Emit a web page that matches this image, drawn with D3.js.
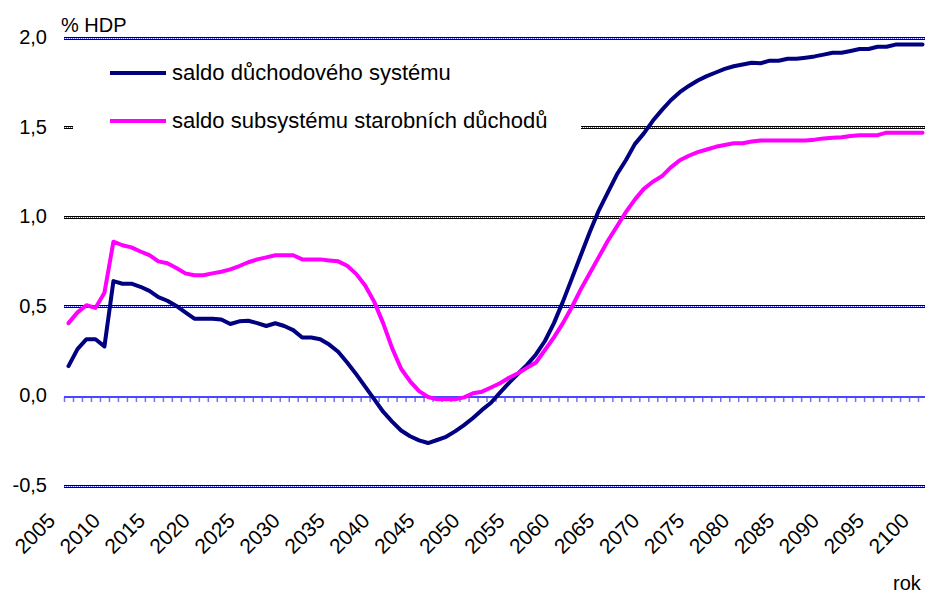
<!DOCTYPE html>
<html>
<head>
<meta charset="utf-8">
<script src="https://cdnjs.cloudflare.com/ajax/libs/d3/7.8.5/d3.min.js"></script>
<style>
  body { margin: 0; background: #fff; }
  text { font-family: "Liberation Sans", Arial, sans-serif; fill: #000; }
</style>
</head>
<body>
<div id="chart"></div>
<script>
// Data (% HDP)
var years = d3.range(2005, 2101);

// saldo důchodového systému
var saldoSystem = [
  0.17, 0.265, 0.32, 0.32, 0.28, 0.645, 0.63, 0.63, 0.613, 0.59,
  0.555, 0.535, 0.506, 0.47, 0.435, 0.435, 0.435, 0.43, 0.405, 0.42,
  0.423, 0.41, 0.394, 0.409, 0.394, 0.371, 0.33, 0.33, 0.32, 0.29,
  0.25, 0.19, 0.125, 0.055, -0.015, -0.085, -0.14, -0.19, -0.222, -0.245,
  -0.26, -0.243, -0.225, -0.195, -0.16, -0.12, -0.075, -0.035, 0.022, 0.076,
  0.127, 0.177, 0.235, 0.31, 0.41, 0.53, 0.66, 0.79, 0.92, 1.04,
  1.14, 1.24, 1.32, 1.41, 1.47, 1.54, 1.60, 1.655, 1.70, 1.735,
  1.765, 1.79, 1.81, 1.83, 1.845, 1.855, 1.865, 1.862, 1.876, 1.876,
  1.887, 1.887, 1.893, 1.90, 1.91, 1.92, 1.92, 1.93, 1.941, 1.941,
  1.954, 1.954, 1.966, 1.966, 1.966, 1.966
];

// saldo subsystému starobních důchodů
var saldoStarobni = [
  0.41, 0.47, 0.51, 0.495, 0.58, 0.865, 0.845, 0.833, 0.81, 0.79,
  0.755, 0.744, 0.718, 0.688, 0.677, 0.677, 0.688, 0.697, 0.71, 0.729,
  0.75, 0.766, 0.777, 0.789, 0.789, 0.789, 0.766, 0.766, 0.766, 0.76,
  0.755, 0.73, 0.685, 0.62, 0.53, 0.41, 0.27, 0.155, 0.085, 0.03,
  -0.003, -0.016, -0.016, -0.016, -0.005, 0.018, 0.027, 0.05, 0.074, 0.105,
  0.13, 0.16, 0.19, 0.26, 0.33, 0.41, 0.50, 0.60, 0.69, 0.78,
  0.87, 0.95, 1.03, 1.10, 1.16, 1.20, 1.23, 1.28, 1.32, 1.345,
  1.365, 1.38, 1.395, 1.405, 1.415, 1.415, 1.425, 1.43, 1.43, 1.43,
  1.43, 1.43, 1.43, 1.435, 1.442, 1.445, 1.448, 1.455, 1.46, 1.46,
  1.46, 1.474, 1.474, 1.474, 1.474, 1.474
];

var yTicks = [-0.5, 0, 0.5, 1.0, 1.5, 2.0];
var xLabels = [2005, 2010, 2015, 2020, 2025, 2030, 2035, 2040, 2045, 2050,
  2055, 2060, 2065, 2070, 2075, 2080, 2085, 2090, 2095, 2100];

var seriesNames = ["saldo důchodového systému", "saldo subsystému starobních důchodů"];
var seriesColors = ["#000080", "#ff00ff"];

// Canvas
var width = 925;
var height = 596;

var svg = d3.select("#chart")
  .append("svg")
  .attr("width", width)
  .attr("height", height);

// Scales - plot area runs a bit past the right edge of the picture
var xScale = d3.scaleBand()
  .domain(years)
  .range([64, 927]);

var yScale = d3.scaleLinear()
  .domain([-0.5, 2.0])
  .range([486, 38.5]);

function px(v) {
  return Math.floor(yScale(v)) + 0.5;
}

// Gridlines (black double line with a dotted blue middle)
var grid = svg.append("g").attr("class", "grid");
yTicks.filter(function(v) { return v !== 0; }).forEach(function(v) {
  grid.append("line")
    .attr("x1", 64).attr("x2", width)
    .attr("y1", px(v)).attr("y2", px(v))
    .attr("stroke", "#000").attr("stroke-width", 3);
  grid.append("line")
    .attr("x1", 64).attr("x2", width)
    .attr("y1", px(v)).attr("y2", px(v))
    .attr("stroke", "#fff").attr("stroke-width", 1);
  grid.append("line")
    .attr("x1", 64).attr("x2", width)
    .attr("y1", px(v)).attr("y2", px(v))
    .attr("stroke", "#5a5aff").attr("stroke-width", 1)
    .attr("stroke-dasharray", "1,1");
});

// Zero line with a tick at each category boundary
var zeroY = Math.round(yScale(0));
svg.append("g")
  .selectAll("line")
  .data(years)
  .enter()
  .append("line")
  .attr("x1", function(d) { return xScale(d) + 0.5; })
  .attr("x2", function(d) { return xScale(d) + 0.5; })
  .attr("y1", zeroY)
  .attr("y2", zeroY + 5)
  .attr("stroke", "#7070ff")
  .attr("stroke-width", 1.5);

svg.append("line")
  .attr("x1", 64).attr("x2", width)
  .attr("y1", zeroY).attr("y2", zeroY)
  .attr("stroke", "#4848ff")
  .attr("stroke-width", 2);

// Y axis labels (plain hyphen for the minus, comma decimals)
var yAxis = d3.axisLeft(yScale)
  .tickValues(yTicks)
  .tickSize(0)
  .tickPadding(0)
  .tickFormat(function(d) {
    return d3.format(".1f")(d).replace(".", ",").replace("\u2212", "-");
  });

var yG = svg.append("g")
  .attr("transform", "translate(47,0)")
  .call(yAxis);
yG.select(".domain").remove();
yG.selectAll("text")
  .attr("font-size", 20)
  .attr("font-family", "Liberation Sans, Arial, sans-serif")
  .attr("dy", "0.25em");

// X axis labels, rotated
var xAxis = d3.axisBottom(xScale)
  .tickValues(xLabels)
  .tickSize(0);

var xG = svg.append("g")
  .attr("transform", "translate(0,486)")
  .call(xAxis);
xG.select(".domain").remove();
xG.selectAll("text")
  .attr("font-size", 21)
  .attr("font-family", "Liberation Sans, Arial, sans-serif")
  .attr("text-anchor", "end")
  .attr("y", 0)
  .attr("dy", 0)
  .attr("transform", "translate(-12,36) rotate(-45)");

// Series lines
var line = d3.line()
  .x(function(d) { return xScale(d.year) + xScale.bandwidth() / 2; })
  .y(function(d) { return yScale(d.v); });

[saldoSystem, saldoStarobni].forEach(function(vals, i) {
  var pts = years.map(function(yr, j) { return { year: yr, v: vals[j] }; });
  svg.append("path")
    .datum(pts)
    .attr("d", line)
    .attr("fill", "none")
    .attr("stroke", seriesColors[i])
    .attr("stroke-width", 4)
    .attr("stroke-linejoin", "round")
    .attr("stroke-linecap", "round");
});

// Legend (white box hides the 1,5 gridline)
var legend = svg.append("g");
legend.append("rect")
  .attr("x", 73).attr("y", 50)
  .attr("width", 508).attr("height", 95)
  .attr("fill", "#fff");

var legendRows = [73, 121];
seriesNames.forEach(function(name, i) {
  legend.append("line")
    .attr("x1", 110).attr("x2", 166)
    .attr("y1", legendRows[i]).attr("y2", legendRows[i])
    .attr("stroke", seriesColors[i])
    .attr("stroke-width", 4);
  legend.append("text")
    .attr("x", 172)
    .attr("y", legendRows[i] + 7)
    .attr("font-size", 22)
    .text(name);
});

// Axis titles
svg.append("text")
  .attr("x", 61).attr("y", 32)
  .attr("font-size", 20)
  .text("% HDP");

svg.append("text")
  .attr("x", 893).attr("y", 590)
  .attr("font-size", 20)
  .text("rok");
</script>
</body>
</html>
